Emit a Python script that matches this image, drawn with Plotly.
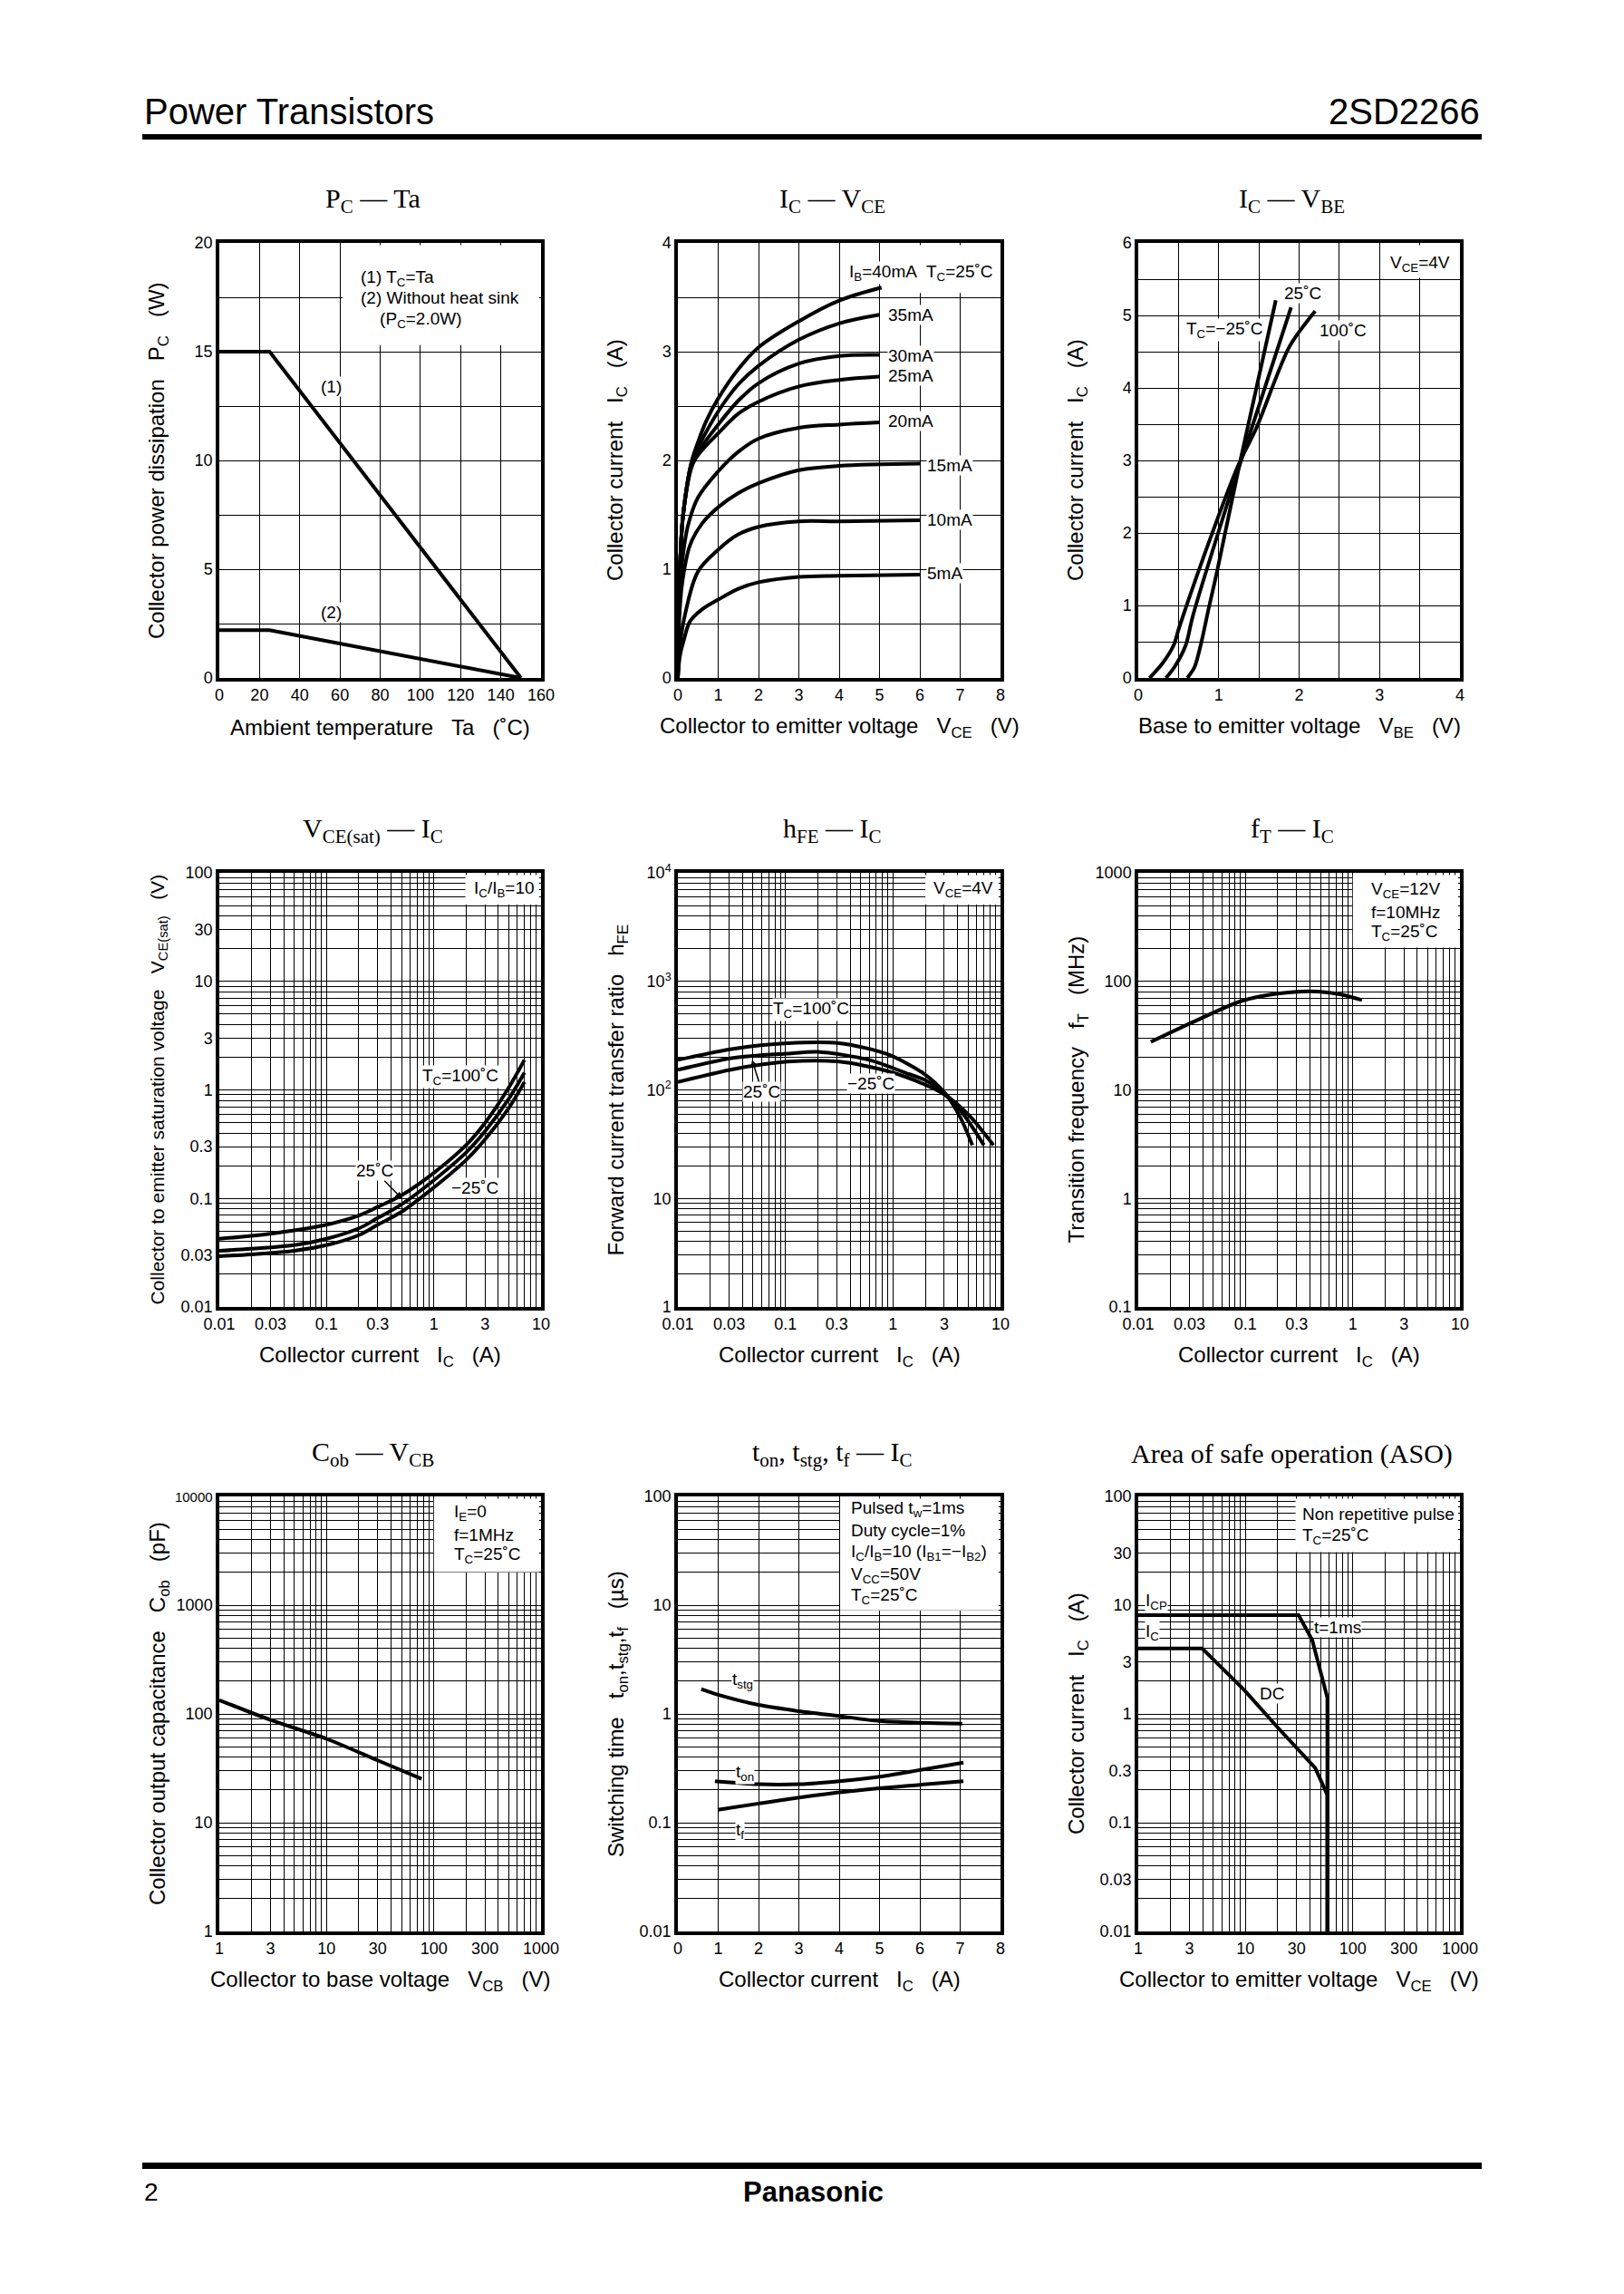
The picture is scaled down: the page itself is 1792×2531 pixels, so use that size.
import plotly.graph_objects as go

W, H = 1792, 2531
SANS = "Liberation Sans, Arial, Helvetica, sans-serif"
SERIF = "Liberation Serif, Times New Roman, serif"
SP = "\u00a0" * 3

# ---------------- data ----------------
# Pc - Ta
ta_1 = [0, 25, 150]
pc_1 = [15, 15, 0]
ta_2 = [0, 25, 150]
pc_2 = [2.2, 2.2, 0]

# Ic - Vce (Tc=25C)
vce_40 = [0, 0.03, 0.06, 0.13, 0.35, 0.5, 0.7, 1.0, 1.5, 2, 3, 4, 5.05]
ic_40 = [0, 0.8, 1.1, 1.5, 2.0, 2.17, 2.36, 2.57, 2.84, 3.04, 3.28, 3.47, 3.59]
vce_35 = [0, 0.03, 0.06, 0.13, 0.35, 0.5, 1.0, 1.5, 2, 3, 4, 5]
ic_35 = [0, 0.8, 1.1, 1.5, 2.0, 2.12, 2.45, 2.7, 2.87, 3.11, 3.26, 3.34]
vce_30 = [0, 0.03, 0.06, 0.13, 0.35, 0.5, 1.0, 1.5, 2, 3, 4, 5]
ic_30 = [0, 0.8, 1.1, 1.5, 1.98, 2.08, 2.33, 2.55, 2.71, 2.89, 2.96, 2.97]
vce_25 = [0, 0.03, 0.06, 0.13, 0.35, 0.5, 1.0, 1.5, 2, 3, 4, 5]
ic_25 = [0, 0.8, 1.1, 1.5, 1.95, 2.05, 2.25, 2.43, 2.54, 2.68, 2.74, 2.77]
vce_20 = [0, 0.03, 0.1, 0.25, 0.5, 1.0, 1.5, 2, 3, 4, 5]
ic_20 = [0, 0.7, 1.05, 1.4, 1.66, 1.9, 2.08, 2.2, 2.3, 2.33, 2.35]
vce_15 = [0, 0.03, 0.1, 0.3, 0.6, 1.0, 1.5, 2, 3, 4, 6]
ic_15 = [0, 0.5, 0.85, 1.22, 1.42, 1.57, 1.7, 1.79, 1.91, 1.95, 1.97]
vce_10 = [0, 0.05, 0.2, 0.5, 1.0, 1.5, 2, 3, 4, 6]
ic_10 = [0, 0.3, 0.62, 0.98, 1.18, 1.32, 1.39, 1.44, 1.44, 1.45]
vce_5 = [0, 0.05, 0.15, 0.3, 0.6, 1.0, 1.5, 2, 3, 4, 6]
ic_5 = [0, 0.2, 0.35, 0.52, 0.63, 0.72, 0.82, 0.88, 0.93, 0.94, 0.95]

# Ic - Vbe (Vce=4V)
vbe_m25 = [0.61, 0.70, 0.78, 0.87, 0.98, 1.26, 1.71]
icb_m25 = [0, 0.15, 0.47, 0.93, 1.47, 2.95, 5.21]
vbe_25 = [0.345, 0.45, 0.59, 0.68, 1.25, 1.90]
icb_25 = [0, 0.15, 0.45, 0.86, 2.9, 5.11]
vbe_100 = [0.14, 0.3, 0.44, 0.51, 0.98, 1.25, 1.47, 1.88, 2.2]
icb_100 = [0, 0.2, 0.45, 0.7, 2.18, 2.95, 3.45, 4.57, 5.06]

# Vce(sat) - Ic (Ic/Ib=10)
ic_sat = [0.01, 0.02, 0.05, 0.1, 0.2, 0.3, 0.5, 1.0, 2.0, 3.0, 5.0, 7.0]
vsat_100 = [0.0425, 0.0452, 0.0508, 0.0573, 0.0697, 0.0835, 0.107, 0.172, 0.31, 0.496, 1.05, 1.89]
vsat_25 = [0.033, 0.0344, 0.0371, 0.0425, 0.053, 0.066, 0.088, 0.147, 0.265, 0.415, 0.828, 1.44]
vsat_m25 = [0.0294, 0.0305, 0.033, 0.0371, 0.0459, 0.0573, 0.0753, 0.126, 0.226, 0.349, 0.68, 1.18]

# hFE - Ic (Vce=4V)
ic_h100 = [0.01, 0.0326, 0.105, 0.316, 0.89, 1.94, 3.05, 4.22, 5.47]
hfe_100 = [189, 239, 269, 269, 213, 141, 93, 56, 31]
ic_h25 = [0.01, 0.0326, 0.105, 0.2, 0.6, 1.4, 2.0, 3.05, 4.5, 7.0]
hfe_25 = [153, 197, 216, 224, 189, 140, 123, 92, 60, 31]
ic_hm25 = [0.01, 0.0326, 0.105, 0.316, 0.89, 1.94, 3.05, 5.13, 8.6]
hfe_m25 = [118, 155, 182, 182, 149, 113, 90, 58, 31]

# fT - Ic
ic_ft = [0.0131, 0.0305, 0.0915, 0.2, 0.405, 0.775, 1.22]
ft = [27.7, 41, 65.8, 77, 81, 75.7, 67.3]

# Cob - Vcb
vcb = [1, 3, 10, 30, 77]
cob = [134, 88, 59, 37.4, 25.3]

# switching times - Ic
ic_stg = [0.58, 1, 2, 3, 4, 5, 6, 7.05]
t_stg = [1.69, 1.50, 1.21, 1.06, 0.955, 0.86, 0.83, 0.815]
ic_on = [0.92, 2, 3, 4, 5, 6, 7.08]
t_on = [0.241, 0.226, 0.226, 0.241, 0.265, 0.305, 0.357]
ic_f = [0.99, 2, 4, 6, 7.08]
t_f = [0.1316, 0.150, 0.19, 0.223, 0.241]

# ASO
vce_p = [1, 31.3, 41.9, 58, 58]
ic_p = [8.1, 8.1, 4.78, 1.41, 0.01]
vce_dc = [1, 3.95, 9.77, 19.9, 44.7, 58, 58]
ic_dc = [4, 4, 1.65, 0.753, 0.318, 0.18, 0.01]

# ---------------- layout helpers ----------------
COLS = [(242, 597), (748, 1104), (1256, 1611)]
ROWS = [(268, 748), (963, 1442), (1651, 2131)]


def px(x):
    return x / W


def py(y):
    return 1 - y / H


def log_minor(lo, hi):
    return [m * 10 ** e for e in range(lo, hi) for m in range(2, 10)]


def axis(dom, anchor, **kw):
    d = dict(domain=dom, anchor=anchor, showline=True, mirror=True,
             linecolor='black', linewidth=3.5, showgrid=True,
             gridcolor='black', gridwidth=1, zeroline=False, ticks='',
             tickfont=dict(family=SANS, size=18, color='black'),
             fixedrange=True, automargin=False)
    d.update(kw)
    return d


def lin_minor(step):
    return dict(dtick=step, showgrid=True, gridcolor='black', gridwidth=1)


def log_axis(lo, hi, vals, texts, **kw):
    return dict(type='log', range=[lo, hi], tickmode='array', tickvals=vals,
                ticktext=texts, gridwidth=1.3,
                minor=dict(tickmode='array', tickvals=log_minor(lo, hi),
                           showgrid=True, gridcolor='black', gridwidth=1), **kw)


fig = go.Figure()
layout = {}

dec_x = ['0.01', '0.03', '0.1', '0.3', '1', '3', '10']
dec_v = [0.01, 0.03, 0.1, 0.3, 1, 3, 10]
spec_x = [
    dict(range=[0, 160], dtick=20),
    dict(range=[0, 8], dtick=1),
    dict(range=[0, 4], dtick=1, minor=lin_minor(0.5)),
    log_axis(-2, 1, dec_v, dec_x),
    log_axis(-2, 1, dec_v, dec_x),
    log_axis(-2, 1, dec_v, dec_x),
    log_axis(0, 3, [1, 3, 10, 30, 100, 300, 1000], ['1', '3', '10', '30', '100', '300', '1000']),
    dict(range=[0, 8], dtick=1),
    log_axis(0, 3, [1, 3, 10, 30, 100, 300, 1000], ['1', '3', '10', '30', '100', '300', '1000']),
]
spec_y = [
    dict(range=[0, 20], dtick=5, minor=lin_minor(2.5)),
    dict(range=[0, 4], dtick=1, minor=lin_minor(0.5)),
    dict(range=[0, 6], dtick=1, minor=lin_minor(0.5)),
    log_axis(-2, 2, [0.01, 0.03, 0.1, 0.3, 1, 3, 10, 30, 100],
             ['0.01', '0.03', '0.1', '0.3', '1', '3', '10', '30', '100']),
    log_axis(0, 4, [1, 10, 100, 1000, 10000], ['1', '10', '10<sup>2</sup>', '10<sup>3</sup>', '10<sup>4</sup>']),
    log_axis(-1, 3, [0.1, 1, 10, 100, 1000], ['0.1', '1', '10', '100', '1000']),
    log_axis(0, 4, [1, 10, 100, 1000, 10000],
             ['1', '10', '100', '1000', "<span style='font-size:15px'>10000</span>"]),
    log_axis(-2, 2, [0.01, 0.1, 1, 10, 100], ['0.01', '0.1', '1', '10', '100']),
    log_axis(-2, 2, [0.01, 0.03, 0.1, 0.3, 1, 3, 10, 30, 100],
             ['0.01', '0.03', '0.1', '0.3', '1', '3', '10', '30', '100']),
]
for i in range(9):
    r, c = divmod(i, 3)
    n = '' if i == 0 else str(i + 1)
    layout['xaxis' + n] = axis([px(COLS[c][0]), px(COLS[c][1])], 'y' + n, **spec_x[i])
    layout['yaxis' + n] = axis([py(ROWS[r][1]), py(ROWS[r][0])], 'x' + n, **spec_y[i])

LINE = dict(color='black', width=4)


def add(i, x, y, shape='linear', smoothing=0.8):
    n = '' if i == 0 else str(i + 1)
    fig.add_trace(go.Scatter(x=x, y=y, mode='lines', xaxis='x' + n, yaxis='y' + n,
                             line=dict(LINE, shape=shape, smoothing=smoothing),
                             showlegend=False, hoverinfo='skip'))


add(0, ta_1, pc_1)
add(0, ta_2, pc_2)
for xs, ys in [(vce_40, ic_40), (vce_35, ic_35), (vce_30, ic_30), (vce_25, ic_25),
               (vce_20, ic_20), (vce_15, ic_15), (vce_10, ic_10), (vce_5, ic_5)]:
    add(1, xs, ys, 'spline', 1.0)
add(2, vbe_m25, icb_m25, 'spline')
add(2, vbe_25, icb_25, 'spline')
add(2, vbe_100, icb_100, 'spline')
add(3, ic_sat, vsat_100, 'spline', 1.0)
add(3, ic_sat, vsat_25, 'spline', 1.0)
add(3, ic_sat, vsat_m25, 'spline', 1.0)
add(4, ic_h100, hfe_100, 'spline')
add(4, ic_h25, hfe_25, 'spline')
add(4, ic_hm25, hfe_m25, 'spline')
add(5, ic_ft, ft, 'spline')
add(6, vcb, cob, 'spline')
add(7, ic_stg, t_stg, 'spline')
add(7, ic_on, t_on, 'spline')
add(7, ic_f, t_f, 'spline')
add(8, vce_p, ic_p)
add(8, vce_dc, ic_dc)

# ---------------- texts ----------------
ann = []
shapes = []


def dref(i):
    n = '' if i == 0 else str(i + 1)
    return 'x' + n + ' domain', 'y' + n + ' domain'


def label(i, x, y, text, xanchor='left', bg='white', size=19, **kw):
    xr, yr = dref(i)
    d = dict(xref=xr, yref=yr, x=x, y=y, text=text, showarrow=False,
             xanchor=xanchor, yanchor='middle', borderpad=0,
             font=dict(family=SANS, size=size, color='black'))
    if bg:
        d['bgcolor'] = bg
    d.update(kw)
    ann.append(d)


def box(i, x0, y0):
    # white corner panel that hides the grid behind the condition text
    xr, yr = dref(i)
    shapes.append(dict(type='rect', xref=xr, yref=yr, x0=x0, x1=0.994, y0=y0, y1=0.995,
                       fillcolor='white', line=dict(width=0), layer='above'))


titles = [
    'P<sub>C</sub> — Ta', 'I<sub>C</sub> — V<sub>CE</sub>', 'I<sub>C</sub> — V<sub>BE</sub>',
    'V<sub>CE(sat)</sub> — I<sub>C</sub>', 'h<sub>FE</sub> — I<sub>C</sub>', 'f<sub>T</sub> — I<sub>C</sub>',
    'C<sub>ob</sub> — V<sub>CB</sub>', 't<sub>on</sub>, t<sub>stg</sub>, t<sub>f</sub> — I<sub>C</sub>',
    'Area of safe operation (ASO)',
]
xtitles = [
    'Ambient temperature' + SP + 'Ta' + SP + '(˚C)',
    'Collector to emitter voltage' + SP + 'V<sub>CE</sub>' + SP + '(V)',
    'Base to emitter voltage' + SP + 'V<sub>BE</sub>' + SP + '(V)',
    'Collector current' + SP + 'I<sub>C</sub>' + SP + '(A)',
    'Collector current' + SP + 'I<sub>C</sub>' + SP + '(A)',
    'Collector current' + SP + 'I<sub>C</sub>' + SP + '(A)',
    'Collector to base voltage' + SP + 'V<sub>CB</sub>' + SP + '(V)',
    'Collector current' + SP + 'I<sub>C</sub>' + SP + '(A)',
    'Collector to emitter voltage' + SP + 'V<sub>CE</sub>' + SP + '(V)',
]
ytitles = [
    'Collector power dissipation' + SP + 'P<sub>C</sub>' + SP + '(W)',
    'Collector current' + SP + 'I<sub>C</sub>' + SP + '(A)',
    'Collector current' + SP + 'I<sub>C</sub>' + SP + '(A)',
    'Collector to emitter saturation voltage' + SP + 'V<sub>CE(sat)</sub>' + SP + '(V)',
    'Forward current transfer ratio' + SP + 'h<sub>FE</sub>',
    'Transition frequency' + SP + 'f<sub>T</sub>' + SP + '(MHz)',
    'Collector output capacitance' + SP + 'C<sub>ob</sub>' + SP + '(pF)',
    'Switching time' + SP + 't<sub>on</sub>,t<sub>stg</sub>,t<sub>f</sub>' + SP + '(µs)',
    'Collector current' + SP + 'I<sub>C</sub>' + SP + '(A)',
]
for i in range(9):
    r, c = divmod(i, 3)
    cx = (COLS[c][0] + COLS[c][1]) / 2
    cy = (ROWS[r][0] + ROWS[r][1]) / 2
    ann.append(dict(xref='paper', yref='paper', x=px(cx - 8), y=py(ROWS[r][0] - 47),
                    text=titles[i], showarrow=False, xanchor='center', yanchor='middle',
                    font=dict(family=SERIF, size=30, color='black')))
    ann.append(dict(xref='paper', yref='paper', x=px(cx), y=py(ROWS[r][1] + 54),
                    text=xtitles[i], showarrow=False, xanchor='center', yanchor='middle',
                    font=dict(family=SANS, size=24, color='black')))
    ann.append(dict(xref='paper', yref='paper', x=px(COLS[c][0] - 67), y=py(cy),
                    text=ytitles[i], showarrow=False, xanchor='center', yanchor='middle',
                    textangle=-90,
                    font=dict(family=SANS, size=21 if i == 3 else 24, color='black')))

# plot 1
box(0, 0.383, 0.765)
label(0, 0.437, 0.919, '(1) T<sub>C</sub>=Ta', bg=None)
label(0, 0.437, 0.873, '(2) Without heat sink', bg=None)
label(0, 0.437, 0.822, '\u00a0\u00a0\u00a0\u00a0(P<sub>C</sub>=2.0W)', bg=None)
label(0, 0.313, 0.669, '(1)')
label(0, 0.313, 0.151, '(2)')

# plot 2
box(1, 0.645, 0.885)
label(1, 0.528, 0.932, 'I<sub>B</sub>=40mA')
label(1, 0.767, 0.932, 'T<sub>C</sub>=25˚C')
for txt, xx, yy in [('35mA', 0.65, 0.834), ('30mA', 0.65, 0.741), ('25mA', 0.65, 0.694),
                    ('20mA', 0.65, 0.591), ('15mA', 0.77, 0.488), ('10mA', 0.77, 0.363),
                    ('5mA', 0.77, 0.24)]:
    label(1, xx, yy, txt)

# plot 3
box(2, 0.765, 0.92)
label(2, 0.78, 0.953, 'V<sub>CE</sub>=4V', bg=None)
label(2, 0.452, 0.885, '25˚C')
label(2, 0.147, 0.80, 'T<sub>C</sub>=−25˚C')
label(2, 0.56, 0.80, '100˚C')

# plot 4
box(3, 0.765, 0.927)
label(3, 0.79, 0.962, 'I<sub>C</sub>/I<sub>B</sub>=10', bg=None)
label(3, 0.629, 0.531, 'T<sub>C</sub>=100˚C')
label(3, 0.718, 0.275, '−25˚C')
label(3, 0.568, 0.249, '25˚C', xanchor='center', showarrow=True, ax=-30, ay=-31,
      arrowhead=2, arrowsize=1, arrowwidth=1.5, arrowcolor='black', standoff=0)

# plot 5
box(4, 0.767, 0.927)
label(4, 0.79, 0.962, 'V<sub>CE</sub>=4V', bg=None)
label(4, 0.293, 0.684, 'T<sub>C</sub>=100˚C')
label(4, 0.523, 0.514, '−25˚C')
label(4, 0.23, 0.569, '25˚C', xanchor='center', showarrow=True, ax=11, ay=35,
      arrowhead=2, arrowsize=1, arrowwidth=1.5, arrowcolor='black', standoff=0)

# plot 6
box(5, 0.667, 0.828)
label(5, 0.72, 0.96, 'V<sub>CE</sub>=12V', bg=None)
label(5, 0.72, 0.909, 'f=10MHz', bg=None)
label(5, 0.72, 0.862, 'T<sub>C</sub>=25˚C', bg=None)

# plot 7
box(6, 0.667, 0.826)
label(6, 0.728, 0.962, 'I<sub>E</sub>=0', bg=None)
label(6, 0.728, 0.911, 'f=1MHz', bg=None)
label(6, 0.728, 0.864, 'T<sub>C</sub>=25˚C', bg=None)

# plot 8
box(7, 0.503, 0.738)
for txt, yy in [('Pulsed t<sub>w</sub>=1ms', 0.970), ('Duty cycle=1%', 0.922),
                ('I<sub>C</sub>/I<sub>B</sub>=10 (I<sub>B1</sub>=−I<sub>B2</sub>)', 0.870),
                ('V<sub>CC</sub>=50V', 0.819), ('T<sub>C</sub>=25˚C', 0.770)]:
    label(7, 0.535, yy, txt, bg=None)
label(7, 0.166, 0.578, 't<sub>stg</sub>')
label(7, 0.176, 0.365, 't<sub>on</sub>')
label(7, 0.176, 0.232, 't<sub>f</sub>')

# plot 9
box(8, 0.489, 0.872)
label(8, 0.508, 0.96, 'Non repetitive pulse', bg=None)
label(8, 0.508, 0.909, 'T<sub>C</sub>=25˚C', bg=None)
label(8, 0.021, 0.759, 'I<sub>CP</sub>')
label(8, 0.021, 0.687, 'I<sub>C</sub>')
label(8, 0.545, 0.70, 't=1ms')
label(8, 0.416, 0.546, 'DC', xanchor='center')

# page header / footer rules
shapes.append(dict(type='rect', xref='paper', yref='paper', x0=px(157), x1=px(1635),
                   y0=py(154), y1=py(148), fillcolor='black', line=dict(width=0)))
shapes.append(dict(type='rect', xref='paper', yref='paper', x0=px(157), x1=px(1635),
                   y0=py(2393), y1=py(2386), fillcolor='black', line=dict(width=0)))
ann.append(dict(xref='paper', yref='paper', x=px(157), y=py(123), text='Power Transistors',
                showarrow=False, xanchor='left', yanchor='middle',
                font=dict(family=SANS, size=40, color='black')))
ann.append(dict(xref='paper', yref='paper', x=px(1635), y=py(123), text='2SD2266',
                showarrow=False, xanchor='right', yanchor='middle',
                font=dict(family=SANS, size=40, color='black')))
ann.append(dict(xref='paper', yref='paper', x=px(157), y=py(2418), text='2',
                showarrow=False, xanchor='left', yanchor='middle',
                font=dict(family=SANS, size=28, color='black')))
ann.append(dict(xref='paper', yref='paper', x=px(897), y=py(2418), text='<b>Panasonic</b>',
                showarrow=False, xanchor='center', yanchor='middle',
                font=dict(family=SANS, size=31, color='black')))

fig.update_layout(
    width=W, height=H, margin=dict(l=0, r=0, t=0, b=0, pad=0, autoexpand=False),
    paper_bgcolor='white', plot_bgcolor='white', showlegend=False,
    annotations=ann, shapes=shapes, **layout,
)
fig.write_html("out.html", config={'displayModeBar': False},
               post_script="document.body.style.margin='0';document.body.style.overflow='hidden';")
